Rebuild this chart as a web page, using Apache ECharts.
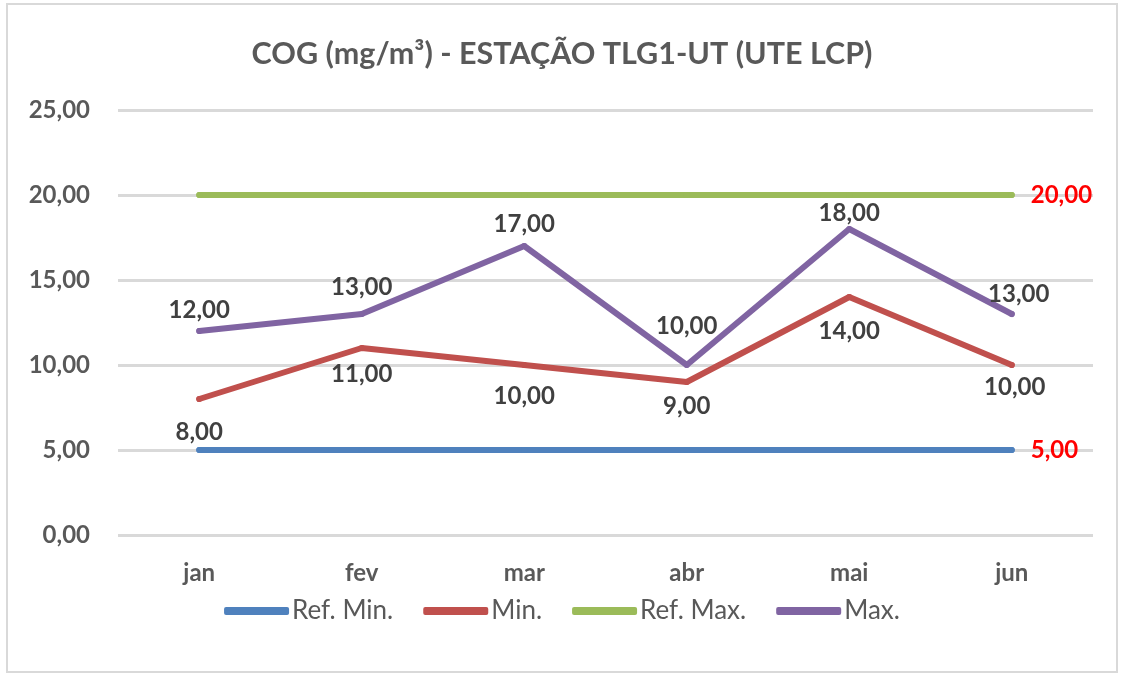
<!DOCTYPE html>
<html>
<head>
<meta charset="utf-8">
<script src="https://cdn.jsdelivr.net/npm/echarts@6/dist/echarts.min.js"></script>
<style>
  html, body { margin: 0; padding: 0; background: #fff; }
  #chart { width: 1124px; height: 677px; }
</style>
</head>
<body>
<div id="chart"></div>
<script>
// Monthly COG readings at station TLG1-UT
const months = ['jan', 'fev', 'mar', 'abr', 'mai', 'jun'];
const refMin = [5, 5, 5, 5, 5, 5];
const minVals = [8, 11, 10, 9, 14, 10];
const refMax = [20, 20, 20, 20, 20, 20];
const maxVals = [12, 13, 17, 10, 18, 13];
const yTicks = { min: 0, max: 25, step: 5 };

// Small per-point nudges for the value labels so they don't collide
const maxLabelShift = [[0, 0], [0, -6], [0, -1], [0, -18], [0, 5], [7, 1]];
const minLabelShift = [[0, 8], [0, 1], [0, 6], [0, -1], [0, 9], [3, -3]];

const FONT = 'Lato, "Open Sans", sans-serif';
const fmt = v => v.toFixed(2).replace('.', ',');

const labelText = { fontFamily: FONT, fontWeight: 'bold', fontSize: 24 };

const withLabels = (arr, pos, dist, shifts) => arr.map((v, i) => ({
  value: v,
  label: {
    show: true, position: pos, distance: dist, offset: shifts[i],
    ...labelText, color: '#404040', formatter: p => fmt(p.value)
  }
}));

// Reference lines only label their last point, in red on the right
const refLabels = (arr) => arr.map((v, i) => i === arr.length - 1
  ? { value: v, label: { show: true, position: 'right', distance: 16, ...labelText, color: '#FF0000', formatter: p => fmt(p.value) } }
  : { value: v, label: { show: false } });

// Point markers are as wide as the line, so they vanish into it but still carry labels
const lineSeries = (name, data, color, z) => ({
  name, type: 'line', data, z,
  symbol: 'circle', symbolSize: 6, showSymbol: true,
  lineStyle: { color, width: 6, cap: 'round', join: 'round' },
  itemStyle: { color },
  emphasis: { disabled: true },
  animation: false
});

const chart = echarts.init(document.getElementById('chart'), null, { renderer: 'canvas' });
chart.setOption({
  backgroundColor: '#fff',
  animation: false,
  graphic: [{
    type: 'rect', shape: { x: 7, y: 4, width: 1110, height: 668 },
    style: { fill: 'none', stroke: '#D9D9D9', lineWidth: 2 }, silent: true
  }],
  title: {
    text: 'COG (mg/m³) - ESTAÇÃO TLG1-UT (UTE LCP)',
    left: 'center', top: 34,
    textStyle: { fontFamily: FONT, fontWeight: 'bold', fontSize: 30.5, color: '#595959' }
  },
  legend: {
    bottom: 48, left: 'center',
    itemWidth: 65, itemHeight: 8, itemGap: 30,
    icon: 'roundRect',
    textStyle: { fontFamily: FONT, fontSize: 26, color: '#595959', padding: [0, 0, 0, -2] },
    data: ['Ref. Min.', 'Min.', 'Ref. Max.', 'Max.']
  },
  grid: { left: 118, right: 31, top: 110, bottom: 142, containLabel: false },
  xAxis: {
    type: 'category', data: months, boundaryGap: true,
    axisLine: { show: false }, axisTick: { show: false },
    axisLabel: { margin: 26, ...labelText, color: '#595959' }
  },
  yAxis: {
    type: 'value', min: yTicks.min, max: yTicks.max, interval: yTicks.step,
    axisLine: { show: false }, axisTick: { show: false },
    splitLine: { lineStyle: { color: '#D9D9D9', width: 3 } },
    axisLabel: { margin: 28, ...labelText, color: '#595959', formatter: v => fmt(v) }
  },
  series: [
    lineSeries('Ref. Min.', refLabels(refMin), '#4F81BD', 2),
    lineSeries('Min.', withLabels(minVals, 'bottom', 10, minLabelShift), '#C0504D', 3),
    lineSeries('Ref. Max.', refLabels(refMax), '#9BBB59', 2),
    lineSeries('Max.', withLabels(maxVals, 'top', 6, maxLabelShift), '#8064A2', 4)
  ]
});
</script>
</body>
</html>
